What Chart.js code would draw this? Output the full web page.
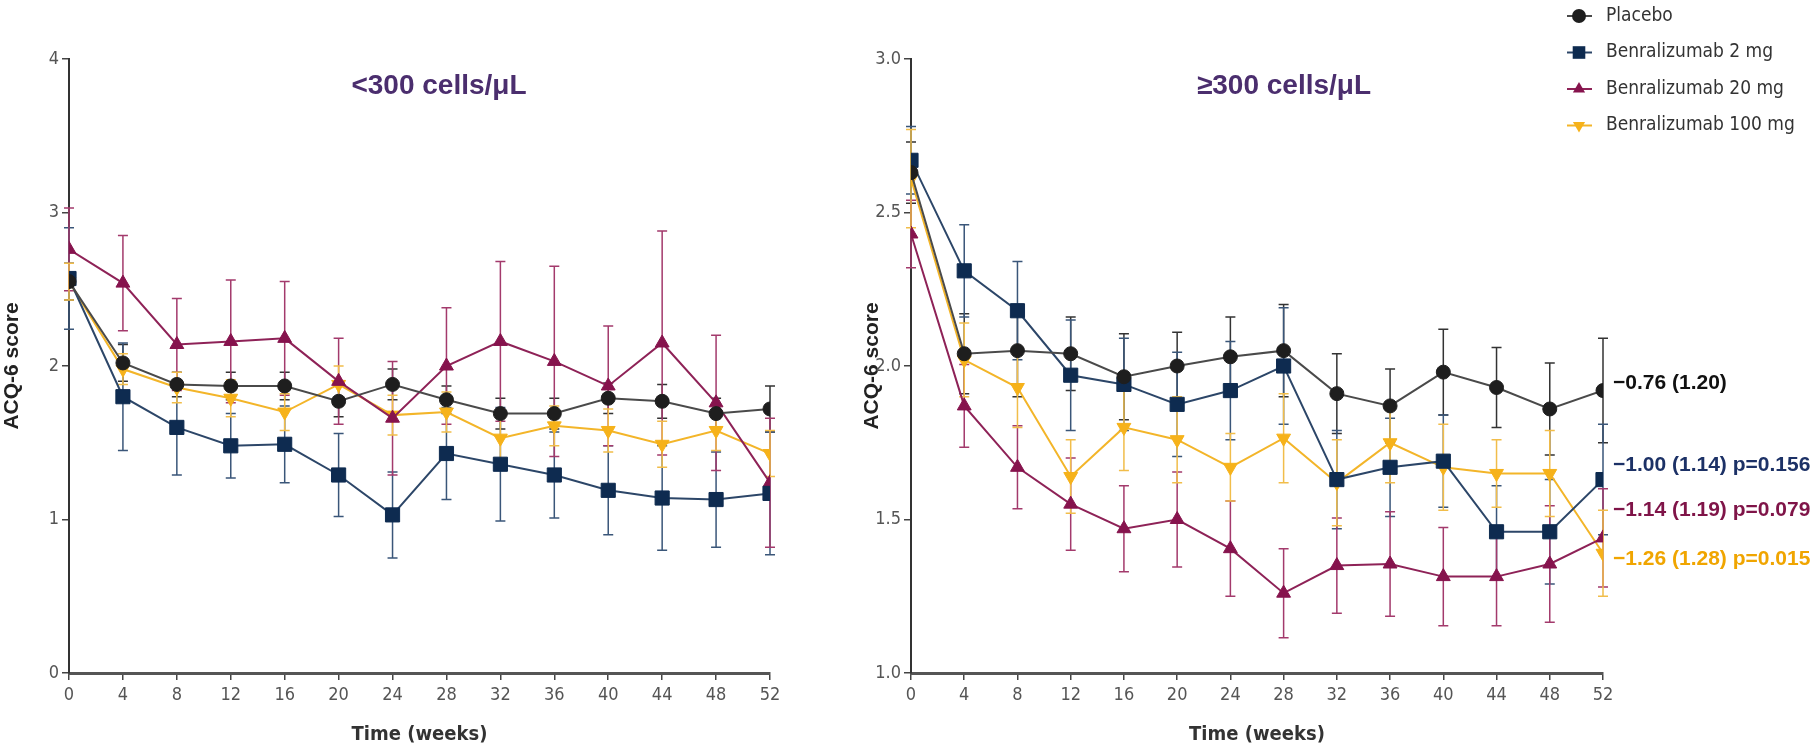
<!DOCTYPE html>
<html>
<head>
<meta charset="utf-8">
<script src="https://cdn.jsdelivr.net/npm/chart.js@4.4.1/dist/chart.umd.min.js"></script>
<style>
  html, body { margin: 0; padding: 0; background: #fff; }
  #wrap { position: relative; width: 1818px; height: 750px; }
  #lowChart { position: absolute; left: 0; top: 0; }
  #highChart { position: absolute; left: 860px; top: 0; }
</style>
</head>
<body>
<div id="wrap">
  <canvas id="lowChart" width="860" height="750"></canvas>
  <canvas id="highChart" width="958" height="750"></canvas>
</div>
<script>
(function () {
	const weeks = [0, 4, 8, 12, 16, 20, 24, 28, 32, 36, 40, 44, 48, 52];
	const seriesNames = ['Placebo', 'Benralizumab 2 mg', 'Benralizumab 20 mg', 'Benralizumab 100 mg'];

	// <300 cells/µL: mean ACQ-6 score and error half-width per visit
	const placeboLow = [2.55, 2.02, 1.88, 1.87, 1.87, 1.77, 1.88, 1.78, 1.69, 1.69, 1.79, 1.77, 1.69, 1.72];
	const placeboLowErr = [0.12, 0.12, 0.08, 0.09, 0.09, 0.1, 0.1, 0.09, 0.1, 0.1, 0.1, 0.11, 0.1, 0.15];
	const benra2Low = [2.57, 1.80, 1.60, 1.48, 1.49, 1.29, 1.03, 1.43, 1.36, 1.29, 1.19, 1.14, 1.13, 1.17];
	const benra2LowErr = [0.33, 0.35, 0.31, 0.21, 0.25, 0.27, 0.28, 0.3, 0.37, 0.28, 0.29, 0.34, 0.31, 0.4];
	const benra20Low = [2.76, 2.54, 2.14, 2.16, 2.18, 1.90, 1.66, 2.00, 2.16, 2.03, 1.87, 2.15, 1.76, 1.24];
	const benra20LowErr = [0.27, 0.31, 0.30, 0.40, 0.37, 0.28, 0.37, 0.38, 0.52, 0.62, 0.39, 0.73, 0.44, 0.42];
	const benra100Low = [2.55, 1.98, 1.86, 1.79, 1.70, 1.88, 1.68, 1.70, 1.53, 1.61, 1.58, 1.49, 1.58, 1.43];
	const benra100LowErr = [0.12, 0.1, 0.1, 0.12, 0.12, 0.12, 0.13, 0.13, 0.14, 0.13, 0.14, 0.15, 0.13, 0.15];

	// ≥300 cells/µL
	const placeboHigh = [2.63, 2.04, 2.05, 2.04, 1.965, 2.00, 2.03, 2.05, 1.91, 1.87, 1.98, 1.93, 1.86, 1.92];
	const placeboHighErr = [0.1, 0.13, 0.15, 0.12, 0.14, 0.11, 0.13, 0.15, 0.13, 0.12, 0.14, 0.13, 0.15, 0.17];
	const benra2High = [2.67, 2.31, 2.18, 1.97, 1.94, 1.875, 1.92, 2.00, 1.63, 1.67, 1.69, 1.46, 1.46, 1.63];
	const benra2HighErr = [0.11, 0.15, 0.16, 0.18, 0.15, 0.17, 0.16, 0.19, 0.16, 0.16, 0.15, 0.15, 0.17, 0.18];
	const benra20High = [2.43, 1.87, 1.67, 1.55, 1.47, 1.50, 1.405, 1.26, 1.35, 1.355, 1.314, 1.314, 1.355, 1.44];
	const benra20HighErr = [0.11, 0.135, 0.135, 0.15, 0.14, 0.155, 0.155, 0.145, 0.155, 0.17, 0.16, 0.16, 0.19, 0.16];
	const benra100High = [2.61, 2.02, 1.93, 1.64, 1.80, 1.76, 1.67, 1.765, 1.62, 1.75, 1.67, 1.65, 1.65, 1.39];
	const benra100HighErr = [0.16, 0.12, 0.13, 0.12, 0.14, 0.14, 0.11, 0.145, 0.14, 0.13, 0.14, 0.11, 0.14, 0.14];

	// change from baseline at week 52, written beside the right panel
	const changeLabels = ['\u22120.76 (1.20)', '\u22121.00 (1.14) p=0.156', '\u22121.14 (1.19) p=0.079', '\u22121.26 (1.28) p=0.015'];
	const changeLabelAt = [1.945, 1.678, 1.531, 1.371];

	const narrow = "'Liberation Sans Narrow', 'DejaVu Sans Condensed', 'Liberation Sans', sans-serif";
	const wide = "'Liberation Sans', Arial, sans-serif";

	const styles = [
		{ line: '#4a4a4a', fill: '#1e1e1e', bar: '#333333', pointStyle: 'circle', radius: 7, rotation: 0 },
		{ line: '#2c4668', fill: '#0e2b50', bar: '#3a5679', pointStyle: 'rect', radius: 10, rotation: 0 },
		{ line: '#8e2257', fill: '#86134d', bar: '#a33a6c', pointStyle: 'triangle', radius: 8, rotation: 0 },
		{ line: '#f3b529', fill: '#f6b21a', bar: '#f1bd4a', pointStyle: 'triangle', radius: 8, rotation: 180 },
	];
	const labelColors = ['#111111', '#1c3166', '#7f1448', '#f0a500'];

	function makeDatasets(values, errors) {
		return values.map(function (vals, i) {
			const s = styles[i];
			return {
				label: seriesNames[i],
				data: weeks.map((w, j) => ({ x: w, y: vals[j] })),
				err: errors[i],
				errColor: s.bar,
				borderColor: s.line,
				backgroundColor: s.fill,
				borderWidth: 2,
				pointStyle: s.pointStyle,
				pointRadius: s.radius,
				pointRotation: s.rotation,
				pointBackgroundColor: s.fill,
				pointBorderColor: s.fill,
				pointBorderWidth: 1,
				tension: 0,
			};
		});
	}

	// vertical error bars with caps, drawn under the lines
	const errorBars = {
		id: 'errorBars',
		beforeDatasetsDraw(chart) {
			const ctx = chart.ctx;
			const y = chart.scales.y;
			chart.data.datasets.forEach(function (ds, i) {
				const meta = chart.getDatasetMeta(i);
				ctx.save();
				ctx.strokeStyle = ds.errColor;
				ctx.lineWidth = 1.5;
				meta.data.forEach(function (pt, j) {
					const top = y.getPixelForValue(ds.data[j].y + ds.err[j]);
					const bot = y.getPixelForValue(ds.data[j].y - ds.err[j]);
					ctx.beginPath();
					ctx.moveTo(pt.x, top);
					ctx.lineTo(pt.x, bot);
					ctx.moveTo(pt.x - 5, top);
					ctx.lineTo(pt.x + 5, top);
					ctx.moveTo(pt.x - 5, bot);
					ctx.lineTo(pt.x + 5, bot);
					ctx.stroke();
				});
				ctx.restore();
			});
		},
	};

	const panelTitle = {
		id: 'panelTitle',
		afterDraw(chart, args, opts) {
			const ctx = chart.ctx;
			ctx.save();
			ctx.font = 'bold 28px ' + wide;
			ctx.fillStyle = '#4b2e6e';
			ctx.textAlign = 'center';
			ctx.textBaseline = 'middle';
			ctx.fillText(opts.text, opts.x, opts.y);
			ctx.restore();
		},
	};

	function marker(ctx, s, x, y, r) {
		ctx.beginPath();
		if (s.pointStyle === 'circle') {
			ctx.arc(x, y, r, 0, Math.PI * 2);
		} else if (s.pointStyle === 'rect') {
			ctx.rect(x - r * 0.7, y - r * 0.7, r * 1.4, r * 1.4);
		} else {
			const d = s.rotation === 180 ? -1 : 1;
			ctx.moveTo(x, y - d * r);
			ctx.lineTo(x + r * 0.87, y + d * r * 0.5);
			ctx.lineTo(x - r * 0.87, y + d * r * 0.5);
			ctx.closePath();
		}
		ctx.fill();
	}

	const sideLegend = {
		id: 'sideLegend',
		afterDraw(chart, args, opts) {
			if (!opts.show) return;
			const ctx = chart.ctx;
			ctx.save();
			ctx.font = '19px ' + narrow;
			ctx.textBaseline = 'middle';
			ctx.textAlign = 'left';
			seriesNames.forEach(function (name, i) {
				const s = styles[i];
				const y = opts.y + i * opts.gap;
				ctx.strokeStyle = s.line;
				ctx.lineWidth = 2;
				ctx.beginPath();
				ctx.moveTo(opts.x - 12, y);
				ctx.lineTo(opts.x + 13, y);
				ctx.stroke();
				ctx.fillStyle = s.fill;
				marker(ctx, s, opts.x, y, s.pointStyle === 'rect' ? 9 : 7);
				ctx.fillStyle = '#333';
				ctx.fillText(name, opts.x + 27, y);
			});
			ctx.restore();
		},
	};

	const changeText = {
		id: 'changeText',
		afterDraw(chart, args, opts) {
			if (!opts.show) return;
			const ctx = chart.ctx;
			ctx.save();
			ctx.font = 'bold 21px ' + wide;
			ctx.textBaseline = 'middle';
			ctx.textAlign = 'left';
			changeLabels.forEach(function (t, i) {
				ctx.fillStyle = labelColors[i];
				ctx.fillText(t, chart.chartArea.right + 10, chart.scales.y.getPixelForValue(changeLabelAt[i]));
			});
			ctx.restore();
		},
	};

	function makeChart(canvasId, values, errors, opt) {
		const config = {
			type: 'line',
			data: { datasets: makeDatasets(values, errors) },
			plugins: [errorBars, panelTitle, sideLegend, changeText],
			options: {
				responsive: false,
				animation: false,
				events: [],
				layout: { padding: { top: 59, right: opt.padRight, bottom: 0, left: 0 } },
				plugins: {
					legend: { display: false },
					tooltip: { enabled: false },
					panelTitle: { text: opt.title, x: opt.titleX, y: 86 },
					sideLegend: { show: opt.legend, x: 719, y: 16, gap: 36.5 },
					changeText: { show: opt.legend },
				},
				scales: {
					x: {
						type: 'linear',
						min: 0,
						max: 52,
						ticks: {
							stepSize: 4,
							autoSkip: false,
							maxRotation: 0,
							color: '#555',
							padding: 5,
							font: { family: narrow, size: 18 },
						},
						grid: { drawOnChartArea: false, drawTicks: true, tickLength: 7, color: '#444', lineWidth: 1.5 },
						border: { display: true, color: '#555', width: 3 },
						title: {
							display: true,
							text: 'Time (weeks)',
							color: '#333',
							font: { family: narrow, size: 20, weight: 'bold' },
							padding: { top: 0, bottom: 3 },
						},
						afterFit(scale) {
							scale.height = 77;
						},
					},
					y: {
						min: opt.yMin,
						max: opt.yMax,
						ticks: {
							stepSize: opt.yStep,
							color: '#555',
							padding: 3,
							font: { family: narrow, size: 18 },
							callback: v => v.toFixed(opt.decimals),
						},
						grid: { drawOnChartArea: false, drawTicks: true, tickLength: 7, color: '#444', lineWidth: 1.5 },
						border: { display: true, color: '#333', width: 2 },
						title: {
							display: true,
							text: 'ACQ-6 score',
							color: '#222',
							font: { family: wide, size: 21, weight: 'bold' },
							padding: { top: opt.yTitlePad, bottom: 0 },
						},
						afterFit(scale) {
							scale.width = opt.yWidth;
						},
					},
				},
			},
		};
		new Chart(document.getElementById(canvasId), config);
	}

	makeChart('lowChart',
		[placeboLow, benra2Low, benra20Low, benra100Low],
		[placeboLowErr, benra2LowErr, benra20LowErr, benra100LowErr],
		{ title: '<300 cells/\u03bcL', titleX: 439, yMin: 0, yMax: 4, yStep: 1, decimals: 0, yWidth: 69, yTitlePad: 0, padRight: 90, legend: false });

	makeChart('highChart',
		[placeboHigh, benra2High, benra20High, benra100High],
		[placeboHighErr, benra2HighErr, benra20HighErr, benra100HighErr],
		{ title: '\u2265300 cells/\u03bcL', titleX: 424, yMin: 1, yMax: 3, yStep: 0.5, decimals: 1, yWidth: 51, yTitlePad: 0, padRight: 215, legend: true });
})();
</script>
</body>
</html>
